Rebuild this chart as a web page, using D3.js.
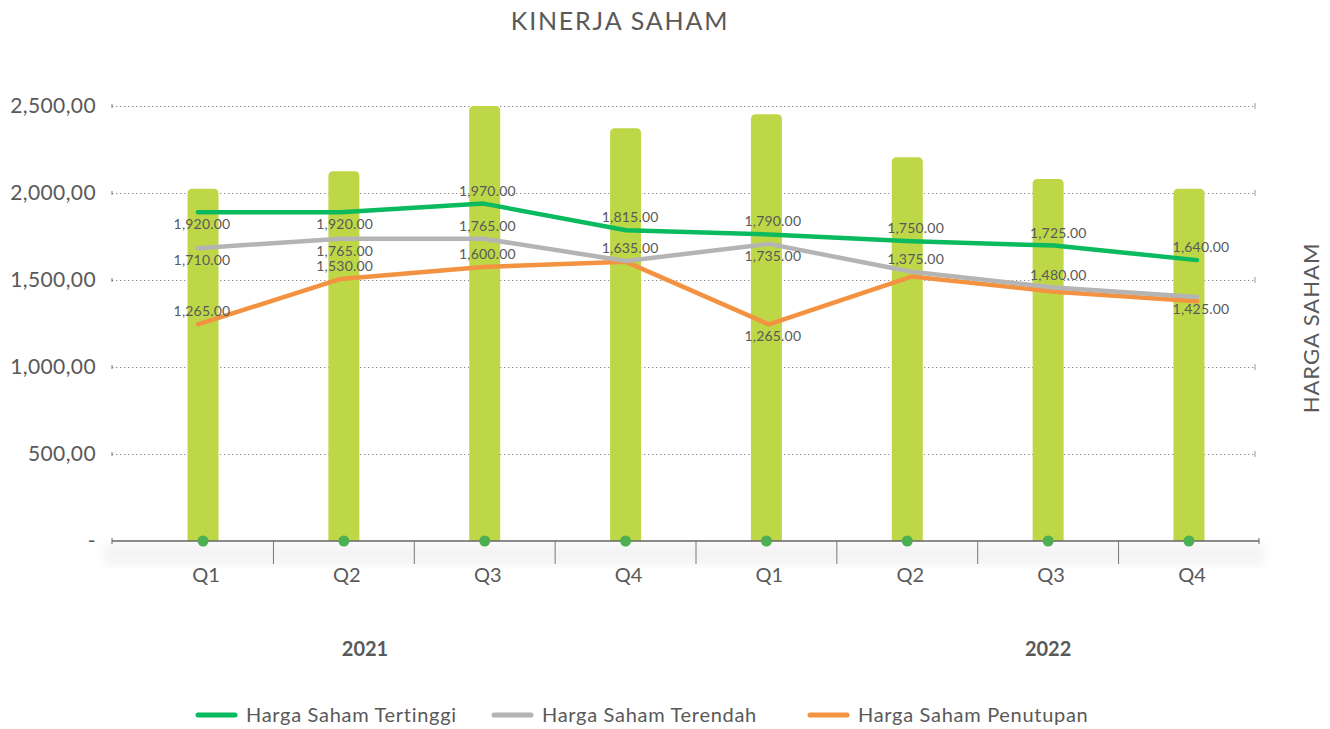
<!DOCTYPE html>
<html>
<head>
<meta charset="utf-8">
<script src="https://cdn.jsdelivr.net/npm/d3@7"></script>
<style>
  html, body { margin: 0; padding: 0; background: #fff; }
  #chart-area { width: 1330px; height: 729px; }
  text { font-family: Lato, "Open Sans", sans-serif; fill: #595959; }
</style>
</head>
<body>
<div id="chart-area"></div>
<script>
// kategori (kuartal) dan tahun
const quarters = ['Q1', 'Q2', 'Q3', 'Q4', 'Q1', 'Q2', 'Q3', 'Q4'];
const years = ['2021', '2021', '2021', '2021', '2022', '2022', '2022', '2022'];
const yearLabels = ['2021', '2022'];

// batang hijau muda (sumbu utama)
const barValues = [2025, 2125, 2500, 2372, 2452, 2205, 2080, 2025];

// garis (sumbu sekunder)
const tertinggi = [1920, 1920, 1970, 1815, 1790, 1750, 1725, 1640];
const terendah = [1710, 1765, 1765, 1635, 1735, 1572, 1480, 1425];
const penutupan = [1265, 1530, 1600, 1630, 1265, 1544, 1456, 1400];

// teks label data seperti pada gambar (null = tanpa label)
const labelTertinggi = [1920, 1920, 1970, 1815, 1790, 1750, 1725, 1640];
const labelTerendah = [1710, 1765, 1765, 1635, 1735, 1375, 1480, 1425];
const labelPenutupan = [1265, 1530, 1600, null, 1265, null, null, null];

// tick sumbu Y
const yTicks = [0, 500, 1000, 1500, 2000, 2500];

//posisi label: a = di atas titik, b = di bawah titik
const posTertinggi = ['b', 'b', 'a', 'a', 'a', 'a', 'a', 'a'];
const posTerendah = ['b', 'b', 'a', 'a', 'b', 'a', 'a', 'b'];
const posPenutupan = ['a', 'a', 'a', 'a', 'b', 'a', 'a', 'a'];

const series = [
    { name: 'Harga Saham Tertinggi', values: tertinggi, labels: labelTertinggi, pos: posTertinggi, color: '#0ABA5E' },
    { name: 'Harga Saham Terendah', values: terendah, labels: labelTerendah, pos: posTerendah, color: '#B4B4B4' },
    { name: 'Harga Saham Penutupan', values: penutupan, labels: labelPenutupan, pos: posPenutupan, color: '#F39341' }
];

const width = 1330;
const height = 729;
const plot = { left: 112, right: 1256, top: 106, bottom: 541 };

const svg = d3.select('#chart-area').append('svg')
    .attr('width', width)
    .attr('height', height);

const keys = quarters.map((q, i) => years[i] + '-' + q);

//escala das barras (bandas) e das linhas (pontos)
const xBand = d3.scaleBand()
    .domain(keys)
    .range([132.6, 1259.4]);

const xLine = d3.scalePoint()
    .domain(keys)
    .range([198, 1197]);

const y = d3.scaleLinear()
    .domain([0, 2500])
    .range([plot.bottom, plot.top]);

const y2 = d3.scaleLinear()
    .domain([0, 2540])
    .range([plot.bottom, plot.top]);

// titulo
svg.append('text')
    .attr('x', 620)
    .attr('y', 30)
    .attr('text-anchor', 'middle')
    .style('font-size', '25px')
    .style('letter-spacing', '1.8px')
    .text('KINERJA SAHAM');

// sombra debaixo do eixo X
const defs = svg.append('defs');
defs.append('filter').attr('id', 'blur')
    .append('feGaussianBlur').attr('stdDeviation', 4);
svg.append('rect')
    .attr('x', plot.left - 8)
    .attr('y', plot.bottom + 2)
    .attr('width', plot.right - plot.left + 16)
    .attr('height', 22)
    .attr('fill', '#f4f4f4')
    .attr('filter', 'url(#blur)');

// grid pontilhado + eixo esquerdo
const yAxis = svg.append('g')
    .attr('transform', `translate(${plot.left}, 0)`)
    .call(d3.axisLeft(y)
        .tickValues(yTicks)
        .tickSize(-(plot.right - plot.left))
        .tickPadding(16)
        .tickFormat(d => d === 0 ? '-' : d3.format(',')(d) + ',00'));

yAxis.select('.domain').remove();
yAxis.selectAll('line')
    .attr('stroke', '#8c8c8c')
    .attr('stroke-dasharray', '1.3,2.7')
    .filter(d => d === 0).remove();
yAxis.selectAll('text')
    .style('font-size', '21px')
    .style('letter-spacing', '0.4px')
    .attr('fill', '#595959');

// pequenas marcas nas pontas das linhas de grade
yTicks.filter(d => d > 0).forEach(d => {
    svg.append('line')
        .attr('x1', plot.left).attr('x2', plot.left)
        .attr('y1', y(d) - 2).attr('y2', y(d) + 2)
        .attr('stroke', '#777');
    svg.append('line')
        .attr('x1', plot.right - 1).attr('x2', plot.right - 1)
        .attr('y1', y(d) - 3).attr('y2', y(d) + 3)
        .attr('stroke', '#999');
});

// barras com topo arredondado
const barW = 31;
const r = 5;
svg.selectAll('.bar')
    .data(barValues)
    .enter()
    .append('path')
    .attr('class', 'bar')
    .attr('fill', '#BED747')
    .attr('d', (d, i) => {
        const x0 = xBand(keys[i]) + xBand.bandwidth() / 2 - barW / 2;
        const x1 = x0 + barW;
        const yt = y(d);
        const yb = y(0);
        return `M${x0},${yb} L${x0},${yt + r} Q${x0},${yt} ${x0 + r},${yt} L${x1 - r},${yt} Q${x1},${yt} ${x1},${yt + r} L${x1},${yb} Z`;
    });

// eixo X
svg.append('line')
    .attr('x1', plot.left).attr('x2', 1259)
    .attr('y1', plot.bottom).attr('y2', plot.bottom)
    .attr('stroke', '#666')
    .attr('stroke-width', 1.3);
[plot.left, 1259].forEach(x => {
    svg.append('line')
        .attr('x1', x).attr('x2', x)
        .attr('y1', plot.bottom - 3).attr('y2', plot.bottom + 3)
        .attr('stroke', '#666');
});

// marcas entre as categorias
svg.selectAll('.cat-tick')
    .data(keys.slice(1))
    .enter()
    .append('line')
    .attr('class', 'cat-tick')
    .attr('x1', d => xBand(d)).attr('x2', d => xBand(d))
    .attr('y1', plot.bottom).attr('y2', plot.bottom + 23)
    .attr('stroke', '#777');

// rótulos Q
svg.selectAll('.q-label')
    .data(keys)
    .enter()
    .append('text')
    .attr('class', 'q-label')
    .attr('x', d => xBand(d) + xBand.bandwidth() / 2 + 3)
    .attr('y', 582)
    .attr('text-anchor', 'middle')
    .style('font-size', '20px')
    .text((d, i) => quarters[i]);

// rótulos dos anos
const yearAt = [1.15, 6];
svg.selectAll('.year-label')
    .data(yearLabels)
    .enter()
    .append('text')
    .attr('class', 'year-label')
    .attr('x', (d, i) => xBand(keys[0]) + xBand.bandwidth() / 2 + yearAt[i] * xBand.step())
    .attr('y', 656)
    .attr('text-anchor', 'middle')
    .style('font-size', '20px')
    .style('font-weight', 'bold')
    .text(d => d);

// linhas
const line = d3.line()
    .x((d, i) => xLine(keys[i]))
    .y(d => y2(d));

[series[2], series[1], series[0]].forEach(s => {
    svg.append('path')
        .datum(s.values)
        .attr('fill', 'none')
        .attr('stroke', s.color)
        .attr('stroke-width', 4.5)
        .attr('stroke-linejoin', 'round')
        .attr('stroke-linecap', 'round')
        .attr('d', line);
});

// pontos verdes no zero
svg.selectAll('.dot')
    .data(keys)
    .enter()
    .append('circle')
    .attr('class', 'dot')
    .attr('cx', d => xBand(d) + xBand.bandwidth() / 2)
    .attr('cy', y(0))
    .attr('r', 5.5)
    .attr('fill', '#4CAF50');

// rótulos de dados
const fmt = d3.format(',.2f');
series.forEach(s => {
    s.labels.forEach((v, i) => {
        if (v === null) return;
        const py = y2(s.values[i]);
        svg.append('text')
            .attr('x', xLine(keys[i]) + 4)
            .attr('y', s.pos[i] === 'a' ? py - 8 : py + 17)
            .attr('text-anchor', 'middle')
            .style('font-size', '14px')
            .style('letter-spacing', '0.2px')
            .text(fmt(v));
    });
});

// título do eixo secundário
svg.append('text')
    .attr('transform', 'translate(1319, 328) rotate(-90)')
    .attr('text-anchor', 'middle')
    .style('font-size', '22px')
    .style('letter-spacing', '1px')
    .text('HARGA SAHAM');

// legenda
const legendX = [198, 494, 810];
const legend = svg.selectAll('.legend')
    .data(series)
    .enter()
    .append('g')
    .attr('class', 'legend')
    .attr('transform', (d, i) => `translate(${legendX[i]}, 715)`);

legend.append('line')
    .attr('x1', 0).attr('x2', 37)
    .attr('y1', 0).attr('y2', 0)
    .attr('stroke', d => d.color)
    .attr('stroke-width', 5)
    .attr('stroke-linecap', 'round');

legend.append('text')
    .attr('x', 48)
    .attr('y', 7)
    .style('font-size', '20px')
    .style('letter-spacing', '0.7px')
    .text(d => d.name);
</script>
</body>
</html>
